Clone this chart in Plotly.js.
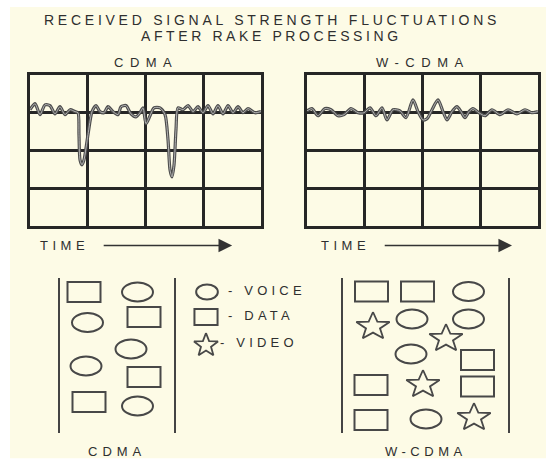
<!DOCTYPE html>
<html><head><meta charset="utf-8">
<script src="https://cdn.plot.ly/plotly-3.0.1.min.js"></script>
<style>html,body{margin:0;padding:0;background:#fff}</style>
</head><body><div id="chart" style="width:546px;height:462px"></div>
<script>
// ---- signal strength after RAKE processing (time in grid divisions, level relative to mean) ----
const cdmaTime = [0,0.087,0.173,0.26,0.346,0.433,0.519,0.606,0.693,0.779,
  0.831,0.848,0.866,0.9,0.935,1.004,1.074,1.143,1.212,1.281,
  1.351,1.437,1.524,1.576,1.662,1.749,1.835,1.905,1.957,2.009,
  2.078,2.147,2.251,2.338,2.39,2.424,2.459,2.494,2.528,2.563,
  2.649,2.736,2.823,2.909,2.996,3.082,3.169,3.255,3.342,3.429,
  3.515,3.602,3.688,3.775,3.896,4.0];
const cdmaLevel = [0.08,0.24,-0.05,0.21,0.19,-0.03,0.16,-0.05,0.08,0.03,
  0,-0.58,-1.25,-1.38,-1.25,-0.58,0.03,0.19,0.03,0,
  0.16,0.03,-0.05,0.16,0.19,-0.03,-0.11,0,0.13,-0.29,
  -0.08,0.13,0.13,-0.05,-0.72,-1.51,-1.70,-1.38,-0.45,0.13,
  0.08,0.19,0.03,0.16,0,0.19,-0.03,0.19,-0.03,0.19,
  0,0.16,0,0.11,0,0.03];
const wcdmaTime = [0,0.087,0.19,0.31,0.416,0.537,0.641,0.762,0.883,0.987,
  1.091,1.195,1.299,1.385,1.489,1.61,1.714,1.835,1.922,2.009,
  2.078,2.165,2.268,2.355,2.424,2.511,2.597,2.667,2.736,2.805,
  2.874,2.978,3.082,3.203,3.342,3.481,3.636,3.775,3.896,4.0];
const wcdmaLevel = [0.05,0.11,-0.08,0.11,0.08,-0.08,-0.05,0.11,0,0,
  0.13,-0.08,0.13,-0.19,0.08,0.05,-0.13,0.34,0.03,-0.19,
  -0.16,0.08,0.34,0.03,-0.19,0.03,0.16,0.03,-0.13,0.03,
  0.11,0,-0.08,0.08,-0.05,0.08,-0.03,0.08,0,0.03];

// ---- channel occupancy (column position, row position, traffic type) ----
const cdmaSymType = ['data','voice','voice','data','voice','voice','data','data','voice'];
const cdmaSymX    = [0.48,1.55,0.55,1.68,1.42,0.52,1.68,0.58,1.55];
const cdmaSymY    = [0.28,0.28,0.89,0.78,1.42,1.76,1.98,2.48,2.56];

const wcdmaSymType = ['data','data','voice','video','voice','voice','video','voice','data','data','video','data','data','voice','video'];
const wcdmaSymX    = [0.57,1.49,2.51,0.60,1.38,2.51,2.06,1.36,2.69,0.56,1.60,2.69,0.56,1.66,2.62];
const wcdmaSymY    = [0.27,0.27,0.27,0.94,0.82,0.82,1.18,1.52,1.64,2.14,2.10,2.17,2.84,2.82,2.76];

const legendTypes  = ['voice','data','video'];
const legendLabels = ['- VOICE','- DATA','- VIDEO'];
const legendSymX   = [0.54,0.52,0.52];
const legendLabelX = [0.96,0.96,0.80];
const legendY      = [0.28,0.78,1.32];

const mainTitle = ['RECEIVED SIGNAL STRENGTH FLUCTUATIONS','AFTER RAKE PROCESSING'];
const panelNames = ['CDMA','W-CDMA'];
const timeLabel = 'TIME';

// ---- styling ----
const INK = '#2f2f2f', GRID = '#262626', SYM = '#484848';
const FONT = 'Liberation Sans, Arial, sans-serif';
const W = 546, H = 462;
const px = v => v / W, py = v => 1 - v / H;
const sp = (t, ls) => '<span style="letter-spacing:' + ls + 'px">' + t + '</span>';

const traces = [];
function signal(t, v, xa, ya) {
  traces.push({x: t, y: v, xaxis: xa, yaxis: ya, mode: 'lines', type: 'scatter',
    line: {color: '#4d4d4d', width: 3.2, shape: 'spline', smoothing: 0.7}, hoverinfo: 'skip'});
  traces.push({x: t, y: v, xaxis: xa, yaxis: ya, mode: 'lines', type: 'scatter',
    line: {color: '#bdbdbd', width: 0.9, shape: 'spline', smoothing: 0.7}, hoverinfo: 'skip'});
}
signal(cdmaTime, cdmaLevel, 'x', 'y');
signal(wcdmaTime, wcdmaLevel, 'x2', 'y2');

const shapes = [];
// cream page
shapes.push({type: 'rect', xref: 'paper', yref: 'paper', x0: px(10), x1: 1, y0: 0.008, y1: py(7),
  fillcolor: '#fdfbe6', line: {width: 0}, layer: 'below'});

const RECT = {w: 0.66, h: 0.40}, ELL = {w: 0.62, h: 0.38};
const STAR = {rx: 0.35, ry: 0.29, inner: 0.42};
function addSymbols(types, xs, ys, xa, ya, scale) {
  const sx = [], sy = [];
  types.forEach((tp, i) => {
    const cx = xs[i], cy = ys[i];
    if (tp === 'data') {
      shapes.push({type: 'rect', xref: xa, yref: ya, x0: cx - RECT.w * scale.w / 2, x1: cx + RECT.w * scale.w / 2,
        y0: cy - RECT.h * scale.h / 2, y1: cy + RECT.h * scale.h / 2, line: {color: SYM, width: 2}});
    } else if (tp === 'voice') {
      shapes.push({type: 'circle', xref: xa, yref: ya, x0: cx - ELL.w * scale.w / 2, x1: cx + ELL.w * scale.w / 2,
        y0: cy - ELL.h * scale.h / 2, y1: cy + ELL.h * scale.h / 2, line: {color: SYM, width: 2}});
    } else {
      for (let k = 0; k <= 10; k++) {
        const a = -Math.PI / 2 + k * Math.PI / 5;
        const r = (k % 2 === 0) ? 1 : STAR.inner;
        sx.push(cx + Math.cos(a) * r * STAR.rx * scale.s);
        sy.push(cy + Math.sin(a) * r * STAR.ry * scale.sy + 0.03 * scale.sy);
      }
      sx.push(null); sy.push(null);
    }
  });
  if (sx.length) traces.push({x: sx, y: sy, xaxis: xa, yaxis: ya, mode: 'lines', type: 'scatter',
    line: {color: SYM, width: 1.8}, hoverinfo: 'skip'});
}
addSymbols(cdmaSymType, cdmaSymX, cdmaSymY, 'x3', 'y3', {w: 1, h: 1, s: 1, sy: 1});
addSymbols(wcdmaSymType, wcdmaSymX, wcdmaSymY, 'x4', 'y4', {w: 1, h: 1, s: 1, sy: 1});
addSymbols(legendTypes, legendSymX, legendY, 'x5', 'y5', {w: 0.7, h: 0.8, s: 0.72, sy: 0.85});
traces.push({x: legendLabelX, y: legendY, xaxis: 'x5', yaxis: 'y5', mode: 'text', type: 'scatter',
  text: legendLabels.map(t => sp(t, 4.2)), textposition: 'middle right',
  textfont: {family: FONT, size: 13, color: INK}, hoverinfo: 'skip', cliponaxis: false});

const gridAxis = (dom, rng) => ({domain: dom, range: rng, dtick: 1, tick0: 0, showgrid: true,
  gridcolor: GRID, gridwidth: 2.6, zeroline: false, showline: true, mirror: true, linecolor: GRID,
  linewidth: 2.6, showticklabels: false, ticks: '', fixedrange: true});
const plainX = (dom, rng) => ({domain: dom, range: rng, visible: false, fixedrange: true});
const boxY = (dom, rng) => ({domain: dom, range: rng, showgrid: false, zeroline: false, showline: true,
  mirror: true, linecolor: '#444', linewidth: 2.4, showticklabels: false, ticks: '', fixedrange: true});

const yTop = [py(226), py(75)], yBot = [py(433), py(278)];
const annotations = [];
const lab = (text, xref, x, y, size, ls) => annotations.push({text: sp(text, ls), xref: xref, yref: 'paper',
  x: x, y: y, showarrow: false, xanchor: 'center', yanchor: 'middle', font: {family: FONT, size: size, color: INK}});
lab(mainTitle[0], 'paper', px(272), py(20), 14, 3.75);
lab(mainTitle[1], 'paper', px(271), py(36), 14, 3.6);
lab(panelNames[0], 'x', 2, py(62), 13, 6.5);
lab(panelNames[1], 'x2', 2, py(62), 13, 6.5);
lab(timeLabel, 'x', 0.6, py(246), 13, 4.5);
lab(timeLabel, 'x2', 0.67, py(246), 13, 4.5);
lab(panelNames[0], 'x3 domain', 0.5, py(451), 13, 5);
lab(panelNames[1], 'x4 domain', 0.5, py(451), 13, 4.5);
[['x', 1.25, 3.5], ['x2', 1.32, 3.55]].forEach(a => annotations.push({text: '', xref: a[0], yref: 'paper',
  x: a[2], y: py(245.5), axref: a[0], ax: a[1], ayref: 'pixel', ay: 0, showarrow: true,
  arrowhead: 2, arrowsize: 1.7, arrowwidth: 1.6, arrowcolor: '#333'}));

const layout = {
  width: W, height: H, margin: {l: 0, r: 0, t: 0, b: 0},
  paper_bgcolor: '#ffffff', plot_bgcolor: 'rgba(0,0,0,0)', showlegend: false, hovermode: false,
  xaxis: gridAxis([px(30), px(261)], [0, 4]), yaxis: gridAxis(yTop, [-3, 1]),
  xaxis2: gridAxis([px(307), px(538)], [0, 4]), yaxis2: gridAxis(yTop, [-3, 1]),
  xaxis3: plainX([px(60), px(174)], [0, 2.28]), yaxis3: boxY(yBot, [3.1, 0]),
  xaxis4: plainX([px(343), px(508)], [0, 3.3]), yaxis4: boxY(yBot, [3.1, 0]),
  xaxis5: plainX([px(180), px(330)], [0, 3]), yaxis5: plainX(yBot, [3.1, 0]),
  shapes: shapes, annotations: annotations
};
layout.yaxis2.anchor = 'x2'; layout.xaxis2.anchor = 'y2';
layout.yaxis3.anchor = 'x3'; layout.xaxis3.anchor = 'y3';
layout.yaxis4.anchor = 'x4'; layout.xaxis4.anchor = 'y4';
layout.yaxis5.anchor = 'x5'; layout.xaxis5.anchor = 'y5';
Plotly.newPlot('chart', traces, layout, {staticPlot: true, displayModeBar: false});
</script></body></html>
